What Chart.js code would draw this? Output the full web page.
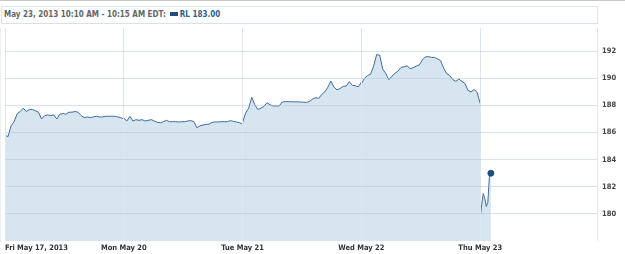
<!DOCTYPE html>
<html>
<head>
<meta charset="utf-8">
<script src="https://cdn.jsdelivr.net/npm/chart.js@4/dist/chart.umd.min.js"></script>
<style>
    body { margin: 0; width: 625px; height: 254px; background: #fff; border-top: 1px solid #c8c8c8; box-sizing: border-box; position: relative; overflow: hidden; }
    #header { position: absolute; top: 5px; left: 1px; width: 595px; height: 16px; border: 1px solid #dde4ea; font-family: "DejaVu Sans Condensed", "DejaVu Sans", sans-serif; font-size: 8px; font-weight: bold; line-height: 16px; white-space: nowrap; }
    #header .when { color: #666; margin-left: 2px; }
    #header .swatch { display: inline-block; width: 8px; height: 4px; background: #1d4f85; margin: 0 2px 1px 4px; vertical-align: middle; }
    #header .quote { color: #2e5f93; }
    #wrap { position: absolute; top: 22px; left: 0; width: 625px; height: 231px; }
</style>
</head>
<body>
<div id="header"><span class="when">May 23, 2013 10:10 AM - 10:15 AM EDT:</span><span class="swatch"></span><span class="quote">RL 183.00</span></div>
<div id="wrap"><canvas id="priceChart"></canvas></div>
<script>
// Day labels for the x axis
const dayLabels = ['Fri May 17, 2013', 'Mon May 20', 'Tue May 21', 'Wed May 22', 'Thu May 23'];
const yTicks = [180, 182, 184, 186, 188, 190, 192];

// Prices every 10 minutes from 9:30 to 16:00 (40 values per day)
const friPrices = [185.8, 185.7, 186.5, 186.8, 187.4, 187.55, 187.8, 187.55, 187.7, 187.7,
    187.6, 187.5, 187.0, 187.25, 187.3, 187.25, 187.3, 187.0, 187.35, 187.4,
    187.35, 187.5, 187.5, 187.55, 187.5, 187.25, 187.1, 187.15, 187.1, 187.15,
    187.2, 187.15, 187.15, 187.2, 187.2, 187.2, 187.2, 187.15, 187.1, 187.0];
const monPrices = [187.05, 186.85, 187.2, 186.85, 186.95, 186.9, 186.95, 186.85, 186.9, 186.95,
    186.85, 186.75, 186.72, 186.8, 186.9, 186.8, 186.8, 186.8, 186.78, 186.8,
    186.8, 186.85, 186.88, 186.8, 186.35, 186.5, 186.55, 186.6, 186.62, 186.75,
    186.78, 186.78, 186.8, 186.8, 186.8, 186.88, 186.82, 186.78, 186.72, 186.62];
const tuePrices = [186.75, 187.45, 187.8, 188.6, 188.05, 187.7, 187.8, 187.92, 188.2, 188.05,
    187.96, 187.96, 187.96, 188.25, 188.28, 188.28, 188.27, 188.27, 188.26, 188.25,
    188.24, 188.22, 188.3, 188.47, 188.57, 188.52, 188.82, 189.0, 189.35, 189.8,
    189.35, 189.15, 189.24, 189.4, 189.43, 189.75, 189.48, 189.45, 189.38, 189.7];
const wedPrices = [189.6, 190.0, 190.2, 190.3, 190.9, 191.75, 191.7, 190.68, 190.35, 189.9,
    190.15, 190.36, 190.53, 190.8, 190.85, 190.92, 190.72, 190.78, 190.9, 190.98,
    191.35, 191.58, 191.6, 191.54, 191.54, 191.43, 191.3, 190.75, 190.35, 190.2,
    189.9, 189.78, 189.95, 189.76, 189.62, 189.1, 189.0, 189.18, 188.95, 188.15];
// Today, every 5 minutes
const thuPrices = [179.7, 180.7, 181.5, 181.15, 180.55, 180.85, 182.7, 183.0];

const SESSION_MIN = 390;

function toPoints(prices, dayIndex, stepMin) {
    return prices.map((v, i) => ({ x: dayIndex + i * stepMin / SESSION_MIN, y: v }));
}

const historyData = [friPrices, monPrices, tuePrices, wedPrices]
    .flatMap((prices, d) => toPoints(prices, d, 10));
const todayData = toPoints(thuPrices, 4, 5);

const lineColor = '#3d6d9d';
const fillColor = 'rgb(214,229,240)';
const tickFont = { family: '"DejaVu Sans Condensed", "DejaVu Sans", sans-serif', size: 7.5, weight: 'bold' };

// Faint copyright text in the plot corner
const watermark = {
    id: 'watermark',
    beforeDatasetsDraw(chart) {
        const { ctx, chartArea } = chart;
        ctx.save();
        ctx.font = '8px "DejaVu Sans Condensed", "DejaVu Sans", sans-serif';
        ctx.fillStyle = '#b9cddd';
        ctx.textBaseline = 'middle';
        ctx.fillText('\u00a9 2013 Yahoo! Inc.', chartArea.left + 4, chartArea.bottom - 6);
        ctx.restore();
    }
};

new Chart(document.getElementById('priceChart').getContext('2d'), {
    type: 'line',
    data: {
        datasets: [
            {
                label: 'RL',
                data: historyData,
                borderColor: lineColor,
                borderWidth: 1,
                backgroundColor: fillColor,
                fill: 'start',
                pointRadius: 0,
                tension: 0
            },
            {
                label: 'RL today',
                data: todayData,
                borderColor: lineColor,
                borderWidth: 1,
                backgroundColor: fillColor,
                fill: 'start',
                pointRadius: ctx => ctx.dataIndex === thuPrices.length - 1 ? 3 : 0,
                pointBackgroundColor: '#1f4d7e',
                pointBorderColor: '#1f4d7e',
                tension: 0
            }
        ]
    },
    options: {
        responsive: true,
        maintainAspectRatio: false,
        animation: false,
        layout: { padding: { left: 1, right: 0, top: 0, bottom: 0 } },
        plugins: {
            legend: { display: false },
            tooltip: { enabled: false }
        },
        scales: {
            x: {
                type: 'linear',
                min: 0,
                max: 4.983,
                afterBuildTicks: scale => {
                    scale.ticks = dayLabels.map((_, i) => ({ value: i })).concat([{ value: 4.983 }]);
                },
                afterFit: scale => {
                    scale.height = 13;
                    scale.paddingLeft = 0;
                    scale.paddingRight = 0;
                },
                ticks: {
                    autoSkip: false,
                    maxRotation: 0,
                    align: 'inner',
                    padding: 3,
                    color: '#333',
                    font: tickFont,
                    callback: value => dayLabels[value] !== undefined ? dayLabels[value] : ''
                },
                grid: { color: '#e0e8ef', drawTicks: false, z: 1 },
                border: { color: '#d5dde4' }
            },
            y: {
                position: 'right',
                min: 178,
                max: 193.71,
                afterBuildTicks: scale => {
                    scale.ticks = yTicks.map(v => ({ value: v }));
                },
                afterFit: scale => {
                    scale.width = 28;
                    scale.paddingTop = 0;
                    scale.paddingBottom = 0;
                },
                ticks: {
                    padding: 5,
                    color: '#444',
                    font: tickFont
                },
                grid: { color: 'rgba(170,195,215,0.45)', drawTicks: false, z: 1 },
                border: { color: '#d5dde4' }
            }
        }
    },
    plugins: [watermark]
});
</script>
</body>
</html>
